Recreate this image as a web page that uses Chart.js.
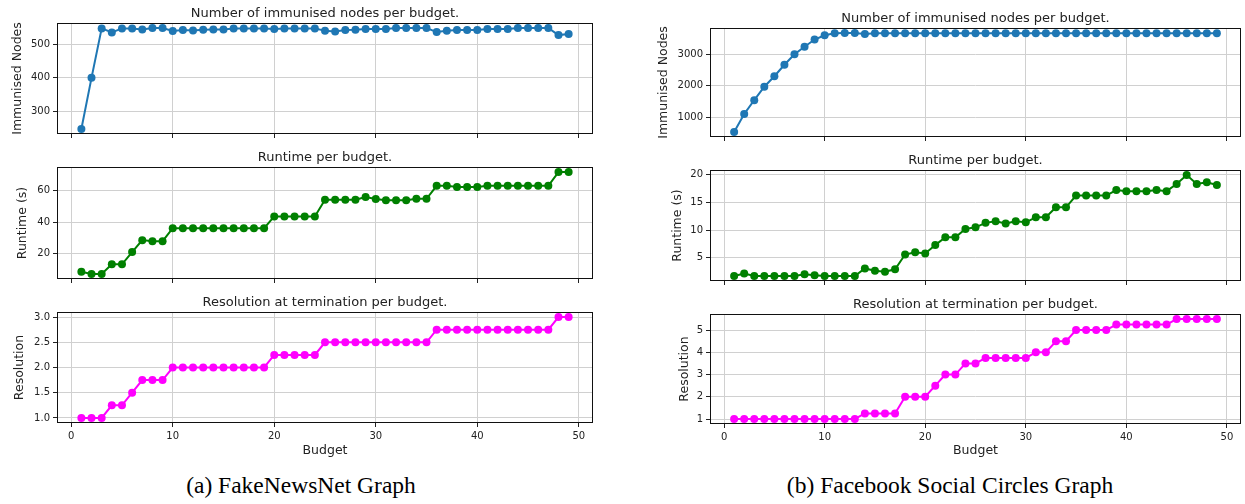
<!DOCTYPE html>
<html>
<head>
<meta charset="utf-8">
<script src="https://cdn.jsdelivr.net/npm/chart.js@4.4.0/dist/chart.umd.min.js"></script>
<style>
  html, body { margin: 0; padding: 0; background: #fff; }
  body { width: 1245px; height: 504px; position: relative; overflow: hidden; }
  canvas { position: absolute; }
  .caption { position: absolute; font-family: 'Liberation Serif', serif; font-size: 23.5px; line-height: 23px; color: #000; white-space: nowrap; transform: translateX(-50%); }
</style>
</head>
<body>
<div class="caption" style="left:301px; top:474px">(a) FakeNewsNet Graph</div>
<div class="caption" style="left:950px; top:474px">(b) Facebook Social Circles Graph</div>
<script>
// budgets on the x axis
const budgets = [1, 2, 3, 4, 5, 6, 7, 8, 9, 10, 11, 12, 13, 14, 15, 16, 17, 18, 19, 20,
  21, 22, 23, 24, 25, 26, 27, 28, 29, 30, 31, 32, 33, 34, 35, 36, 37, 38, 39, 40,
  41, 42, 43, 44, 45, 46, 47, 48, 49];
const xTicks = [0, 10, 20, 30, 40, 50];

// (a) FakeNewsNet
const fakeImmunised = [248, 400, 547, 535, 547, 547, 544, 548, 548, 539,
  542, 541, 543, 544, 544, 547, 547, 547, 547, 545,
  547, 547, 547, 547, 540, 538, 542, 543, 545, 545,
  545, 548, 548, 548, 548, 536, 540, 542, 542, 542,
  545, 545, 545, 548, 548, 548, 548, 527, 530];
const fakeRuntime = [8.6, 7.2, 7.2, 13.3, 13.3, 21.0, 28.6, 27.9, 27.9, 36.2,
  36.2, 36.2, 36.2, 36.2, 36.2, 36.2, 36.2, 36.2, 36.2, 43.6,
  43.6, 43.6, 43.6, 43.6, 54.2, 54.2, 54.2, 54.2, 55.9, 54.6,
  53.8, 53.8, 53.8, 54.8, 54.8, 63.0, 63.0, 62.2, 62.2, 62.2,
  63.0, 63.0, 63.0, 63.0, 63.0, 63.0, 63.0, 71.7, 71.7];
const fakeResolution = [1, 1, 1, 1.25, 1.25, 1.5, 1.75, 1.75, 1.75, 2,
  2, 2, 2, 2, 2, 2, 2, 2, 2, 2.25,
  2.25, 2.25, 2.25, 2.25, 2.5, 2.5, 2.5, 2.5, 2.5, 2.5,
  2.5, 2.5, 2.5, 2.5, 2.5, 2.75, 2.75, 2.75, 2.75, 2.75,
  2.75, 2.75, 2.75, 2.75, 2.75, 2.75, 2.75, 3, 3];

// (b) Facebook Social Circles
const fbImmunised = [531, 1104, 1542, 1969, 2302, 2667, 3000, 3240, 3469, 3604,
  3667, 3677, 3677, 3646, 3667, 3667, 3667, 3667, 3667, 3667,
  3667, 3667, 3667, 3667, 3667, 3667, 3667, 3667, 3667, 3667,
  3667, 3667, 3667, 3667, 3667, 3667, 3667, 3667, 3667, 3667,
  3667, 3667, 3667, 3667, 3667, 3667, 3667, 3667, 3667];
const fbRuntime = [1.75, 2.2, 1.75, 1.75, 1.75, 1.75, 1.75, 2.05, 1.87, 1.75,
  1.75, 1.75, 1.75, 3.1, 2.7, 2.5, 2.95, 5.6, 6.0, 5.8,
  7.3, 8.7, 8.7, 10.2, 10.5, 11.3, 11.6, 11.2, 11.6, 11.4,
  12.3, 12.3, 14.1, 14.1, 16.2, 16.2, 16.2, 16.2, 17.2, 17.0,
  17.0, 17.0, 17.2, 17.0, 18.3, 19.9, 18.3, 18.6, 18.1];
const fbResolution = [1, 1, 1, 1, 1, 1, 1, 1, 1, 1,
  1, 1, 1, 1.25, 1.25, 1.25, 1.25, 2, 2, 2,
  2.5, 3, 3, 3.5, 3.5, 3.75, 3.75, 3.75, 3.75, 3.75,
  4, 4, 4.5, 4.5, 5, 5, 5, 5, 5.25, 5.25,
  5.25, 5.25, 5.25, 5.25, 5.5, 5.5, 5.5, 5.5, 5.5];

// y tick labels
const immunisedTicksA = [300, 400, 500];
const runtimeTicksA = [20, 40, 60];
const resolutionTicksA = [1.0, 1.5, 2.0, 2.5, 3.0];
const immunisedTicksB = [1000, 2000, 3000];
const runtimeTicksB = [5, 10, 15, 20];
const resolutionTicksB = [1, 2, 3, 4, 5];

const titles = ["Number of immunised nodes per budget.", "Runtime per budget.", "Resolution at termination per budget."];
const yLabels = ["Immunised Nodes", "Runtime (s)", "Resolution"];
const xLabel = "Budget";

const colors = ["#1f77b4", "#008000", "#ff00ff"];
const gridColor = "#d0d0d0";
const textColor = "#222222";
const TITLE_H = 19;
const FONT = "'DejaVu Sans', sans-serif";

Chart.defaults.font.family = FONT;

// box around the plot area, like matplotlib spines
const frame = {
  id: "frame",
  beforeDatasetsDraw(chart) {
    const { ctx, chartArea: a } = chart;
    ctx.save();
    ctx.strokeStyle = "#111";
    ctx.lineWidth = 1;
    ctx.strokeRect(Math.round(a.left) + 0.5, Math.round(a.top) + 0.5,
      Math.round(a.right - a.left) - 1, Math.round(a.bottom - a.top) - 1);
    ctx.restore();
  }
};

// subplot title centred over the plot area (not the whole canvas)
const axesTitle = {
  id: "axesTitle",
  afterDraw(chart, args, opts) {
    const { ctx, chartArea: a } = chart;
    ctx.save();
    ctx.font = "13px " + FONT;
    ctx.fillStyle = textColor;
    ctx.textAlign = "center";
    ctx.textBaseline = "alphabetic";
    ctx.fillText(opts.text, (a.left + a.right) / 2, a.top - 6.5);
    ctx.restore();
  }
};

// 5% autoscale margin
function padRange(vals) {
  const lo = Math.min(...vals), hi = Math.max(...vals);
  const m = (hi - lo) * 0.05;
  return [lo - m, hi + m];
}

function makeChart(box, title, yLabel, values, yTicks, fmt, color, showX) {
  const canvas = document.createElement("canvas");
  const width = box.w + (box.R - box.L) + 2;
  const height = TITLE_H + (box.B - box.T) + box.h;
  canvas.width = width;
  canvas.height = height;
  canvas.style.width = width + "px";
  canvas.style.height = height + "px";
  canvas.style.left = (box.L - box.w) + "px";
  canvas.style.top = (box.T - TITLE_H) + "px";
  document.body.appendChild(canvas);

  const [yMin, yMax] = padRange(values);

  new Chart(canvas, {
    type: "line",
    data: {
      datasets: [{
        data: budgets.map((b, i) => ({ x: b, y: values[i] })),
        borderColor: color,
        backgroundColor: color,
        borderWidth: 2,
        pointRadius: 4,
        pointHoverRadius: 4,
        pointBorderWidth: 0,
        tension: 0,
        clip: false
      }]
    },
    options: {
      responsive: false,
      animation: false,
      devicePixelRatio: 1,
      layout: { padding: { top: TITLE_H, right: 2 } },
      plugins: {
        legend: { display: false },
        tooltip: { enabled: false },
        axesTitle: { text: title }
      },
      scales: {
        x: {
          type: "linear",
          min: -1.4,
          max: 51.4,
          afterBuildTicks: s => { s.ticks = xTicks.map(v => ({ value: v })); },
          afterFit: s => { s.height = box.h; },
          border: { display: false },
          grid: { color: gridColor, tickColor: textColor, tickLength: 4 },
          ticks: { display: showX, color: textColor, font: { size: 10 }, padding: 3, maxRotation: 0, autoSkip: false },
          title: { display: showX, text: xLabel, color: textColor, font: { size: 12.5 }, padding: 0 }
        },
        y: {
          min: yMin,
          max: yMax,
          afterBuildTicks: s => { s.ticks = yTicks.map(v => ({ value: v })); },
          afterFit: s => { s.width = box.w; },
          border: { display: false },
          grid: { color: gridColor, tickColor: textColor, tickLength: 4 },
          ticks: { color: textColor, font: { size: 10 }, padding: 3, autoSkip: false, callback: fmt },
          title: { display: true, text: yLabel, color: textColor, font: { size: 12.5 }, padding: 0 }
        }
      }
    },
    plugins: [frame, axesTitle]
  });
}

const plain = v => String(v);
const oneDec = v => v.toFixed(1);

// left panel (a)
makeChart({ L: 57, R: 595, T: 23, B: 134, w: 47, h: 12 }, titles[0], yLabels[0], fakeImmunised, immunisedTicksA, plain, colors[0], false);
makeChart({ L: 57, R: 595, T: 167, B: 279, w: 42, h: 12 }, titles[1], yLabels[1], fakeRuntime, runtimeTicksA, plain, colors[1], false);
makeChart({ L: 57, R: 595, T: 312, B: 423, w: 45, h: 35 }, titles[2], yLabels[2], fakeResolution, resolutionTicksA, oneDec, colors[2], true);

// right panel (b)
makeChart({ L: 710, R: 1243, T: 28, B: 137, w: 54, h: 12 }, titles[0], yLabels[0], fbImmunised, immunisedTicksB, plain, colors[0], false);
makeChart({ L: 710, R: 1243, T: 170, B: 281, w: 40, h: 12 }, titles[1], yLabels[1], fbRuntime, runtimeTicksB, plain, colors[1], false);
makeChart({ L: 710, R: 1243, T: 314, B: 424, w: 33, h: 34 }, titles[2], yLabels[2], fbResolution, resolutionTicksB, plain, colors[2], true);
</script>
</body>
</html>
